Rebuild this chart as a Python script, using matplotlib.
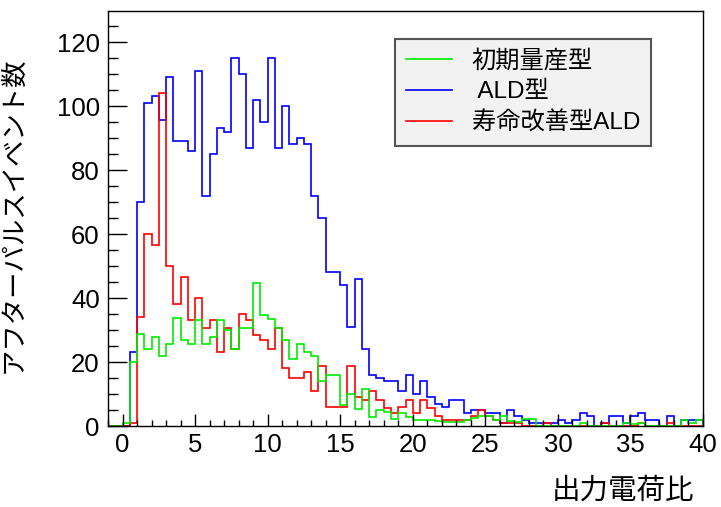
import matplotlib.pyplot as plt
import numpy as np
from matplotlib.ticker import MultipleLocator

plt.rcParams['font.family'] = ['Liberation Sans', 'Noto Sans CJK JP']

# 0.5-wide bins from -1 to 40
edges = np.arange(-1.0, 40.25, 0.5)

ald = [0, 0,
       0, 23, 70, 101, 103, 95.5, 109, 89, 89, 86,
       111, 72, 85, 93, 92, 115, 110, 87, 102, 95,
       115, 87, 100, 88, 90, 88, 72, 65, 48, 48,
       44, 31, 46, 24, 16, 15, 14, 14, 11, 16,
       10, 14, 9, 7, 6, 8, 8, 4, 5, 5,
       4, 4, 1, 5, 3, 2, 1, 1, 1, 1,
       2, 1, 2, 4, 3, 0, 1, 3, 3, 1,
       3, 4, 2, 2, 0, 3, 0, 2, 2, 2]

improved = [0, 0,
            0, 1, 34, 60, 56.5, 104, 50, 38, 46.5, 33,
            40, 30.5, 33, 23, 30.5, 24, 35, 33, 28.5, 27,
            24, 30.5, 18, 15, 15, 17, 11, 18.7, 6, 6,
            6, 18.7, 9, 8, 11, 8, 5.5, 4, 6, 8,
            4, 8, 5.5, 3, 2, 2, 2, 2, 3, 5,
            3, 2, 1, 1, 1, 0, 0, 0, 1, 0,
            0, 0, 0, 0, 0, 0, 1, 0, 0, 0,
            0, 1, 0, 0, 0, 1, 0, 0, 0, 0]

early = [0, 0,
         1, 20, 28.6, 24, 27.8, 22, 25.5, 33.75, 27, 25.5,
         33, 25.5, 27.8, 33, 30, 24, 30.6, 30.6, 44.8, 34.8,
         33.5, 30.6, 27, 20.8, 25.7, 23.1, 21.9, 14, 15.8, 15.8,
         6.5, 10, 5.4, 11.7, 2.8, 4.9, 4.4, 2.3, 4, 2.8,
         1.8, 2, 2, 1.6, 1.25, 1.25, 1.25, 2, 2.6, 3,
         3, 2, 3, 1.5, 1.25, 2.3, 2.3, 0, 0, 0,
         0, 0, 0, 1, 0, 0, 0, 0, 0, 1,
         0.5, 1, 0, 0, 0, 0, 0, 2, 1, 2]

labels = ['初期量産型', ' ALD型', '寿命改善型ALD']
colors = ['#00ee00', '#0000ff', '#ff0000']

fig = plt.figure(figsize=(7.21, 5.07), dpi=100)
ax = fig.add_axes([108 / 721, 81 / 507, 595 / 721, 415 / 507])

ax.stairs(ald, edges, color=colors[1], lw=1.2, label=labels[1])
ax.stairs(improved, edges, color=colors[2], lw=1.2, label=labels[2])
ax.stairs(early, edges, color=colors[0], lw=1.2, label=labels[0])

ax.set_xlim(-1, 40)
ax.set_ylim(0, 129.7)

ax.xaxis.set_major_locator(MultipleLocator(5))
ax.xaxis.set_minor_locator(MultipleLocator(1))
ax.yaxis.set_major_locator(MultipleLocator(20))
ax.yaxis.set_minor_locator(MultipleLocator(5))
ax.tick_params(axis='x', which='major', direction='in', length=9, width=1, labelsize=18.5, pad=5)
ax.tick_params(axis='x', which='minor', direction='in', length=4, width=1)
ax.tick_params(axis='y', which='major', direction='in', length=14, width=1, labelsize=18.5, pad=6)
ax.tick_params(axis='y', which='minor', direction='in', length=7, width=1)
for s in ax.spines.values():
    s.set_linewidth(1)

ax.set_ylabel('アフターパルスイベント数', fontsize=19)
ax.yaxis.set_label_coords(-0.138, 0.51)
ax.set_xlabel('出力電荷比', fontsize=20.5, ha='right')
ax.xaxis.set_label_coords(0.985, -0.125)

handles, names = ax.get_legend_handles_labels()
order = [names.index(n) for n in labels]
leg = ax.legend([handles[i] for i in order], [names[i] for i in order],
                loc='upper left', bbox_to_anchor=(395 / 721, 468 / 507),
                bbox_transform=fig.transFigure, fontsize=17.5,
                handlelength=1.9, handletextpad=0.8, labelspacing=0.35,
                borderpad=0.45, borderaxespad=0, fancybox=False,
                framealpha=1, facecolor='#f2f2f2', edgecolor='#555555')
leg.get_frame().set_linewidth(1.5)
for h in leg.legend_handles:
    h.set_linewidth(1.2)

fig.savefig('out.png', dpi=100)
